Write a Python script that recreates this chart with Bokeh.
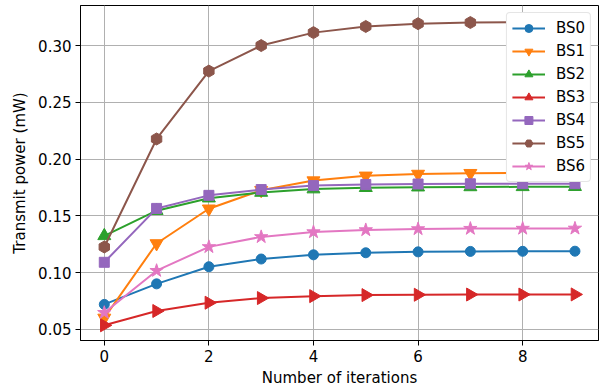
import math
from bokeh.plotting import figure
from bokeh.models import FixedTicker, PrintfTickFormatter, Legend, LegendItem
from bokeh.embed import file_html
from bokeh.resources import INLINE

iterations = [0, 1, 2, 3, 4, 5, 6, 7, 8, 9]
bs0 = [0.0719, 0.0900, 0.1051, 0.1119, 0.1156, 0.1174, 0.1182, 0.1186, 0.1187, 0.1188]
bs1 = [0.0600, 0.1256, 0.1562, 0.1725, 0.1810, 0.1852, 0.1868, 0.1875, 0.1878, 0.1880]
bs2 = [0.1323, 0.1545, 0.1655, 0.1705, 0.1735, 0.1747, 0.1752, 0.1754, 0.1755, 0.1756]
bs3 = [0.0535, 0.0661, 0.0734, 0.0775, 0.0792, 0.0801, 0.0804, 0.0806, 0.0806, 0.0807]
bs4 = [0.1090, 0.1565, 0.1680, 0.1731, 0.1766, 0.1776, 0.1780, 0.1782, 0.1783, 0.1783]
bs5 = [0.1225, 0.2177, 0.2775, 0.3000, 0.3114, 0.3168, 0.3193, 0.3203, 0.3207, 0.3209]
bs6 = [0.0646, 0.1016, 0.1226, 0.1314, 0.1357, 0.1375, 0.1384, 0.1387, 0.1388, 0.1389]

names = ["BS0", "BS1", "BS2", "BS3", "BS4", "BS5", "BS6"]
series = [bs0, bs1, bs2, bs3, bs4, bs5, bs6]
colors = ["#1f77b4", "#ff7f0e", "#2ca02c", "#d62728", "#9467bd", "#8c564b", "#e377c2"]
markers = ["circle", "inverted_triangle", "triangle", "triangle", "square", "hex", "star"]
angles = [0, 0, 0, -math.pi / 2, 0, math.pi / 2, 0]
sizes = [10, 13, 13, 13, 10, 12, 14]

x_ticks = [0, 2, 4, 6, 8]
y_ticks = [0.05, 0.10, 0.15, 0.20, 0.25, 0.30]

FS = "15px"

p = figure(width=601, height=389, output_backend="svg", toolbar_location=None,
           x_range=(-0.455, 9.45), y_range=(0.0401, 0.3353),
           min_border_left=80, min_border_right=3, min_border_top=5, min_border_bottom=47)

p.outline_line_color = "black"
p.outline_line_width = 1
p.background_fill_color = "white"
p.border_fill_color = "white"

for ax in (p.xaxis[0], p.yaxis[0]):
    ax.major_tick_out = 5
    ax.major_tick_in = 0
    ax.minor_tick_line_color = None
    ax.major_tick_line_color = "black"
    ax.axis_line_color = "black"
    ax.major_label_text_font = "DejaVu Sans"
    ax.major_label_text_font_size = FS
    ax.major_label_text_color = "black"
    ax.major_label_standoff = 4
    ax.axis_label_text_font = "DejaVu Sans"
    ax.axis_label_text_font_size = FS
    ax.axis_label_text_font_style = "normal"
    ax.axis_label_text_color = "black"

p.xaxis.ticker = FixedTicker(ticks=x_ticks)
p.yaxis.ticker = FixedTicker(ticks=y_ticks)
p.yaxis.formatter = PrintfTickFormatter(format="%.2f")
p.xaxis.axis_label = "Number of iterations"
p.yaxis.axis_label = "Transmit power (mW)"
p.xaxis.axis_label_standoff = 4
p.yaxis.axis_label_standoff = 6

p.xgrid.ticker = FixedTicker(ticks=x_ticks)
p.ygrid.ticker = FixedTicker(ticks=y_ticks)
p.grid.grid_line_color = "#b0b0b0"
p.grid.grid_line_width = 1

items = []
for name, ys, c, m, a, s in zip(names, series, colors, markers, angles, sizes):
    ln = p.line(iterations, ys, line_color=c, line_width=2)
    sc = p.scatter(iterations, ys, marker=m, angle=a, size=s,
                   fill_color=c, line_color=c)
    items.append(LegendItem(label=name, renderers=[ln, sc]))

legend = Legend(items=items, location="top_right")
legend.margin = 7
legend.padding = 5
legend.spacing = 3
legend.glyph_width = 33
legend.glyph_height = 20
legend.label_height = 20
legend.label_standoff = 11
legend.label_text_font = "DejaVu Sans"
legend.label_text_font_size = FS
legend.label_text_color = "black"
legend.border_line_color = "#cccccc"
legend.border_line_width = 1
legend.background_fill_color = "white"
legend.background_fill_alpha = 1.0
try:
    legend.border_radius = 4
except Exception:
    pass
p.add_layout(legend, "center")

open("out.html", "w").write(file_html(p, INLINE))
